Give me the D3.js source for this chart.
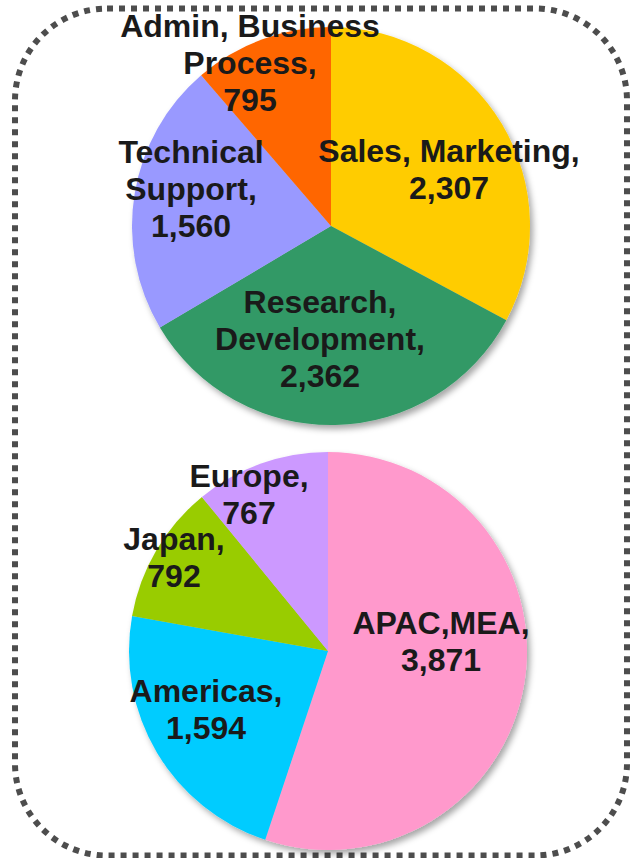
<!DOCTYPE html>
<html>
<head>
<meta charset="utf-8">
<script src="https://cdn.jsdelivr.net/npm/d3@7"></script>
<style>
  body { margin: 0; background: #fff; }
  svg { display: block; }
  .label { font-family: "Liberation Sans", Arial, sans-serif; font-weight: bold; font-size: 32px; fill: #1a1a1a; }
</style>
</head>
<body>
<div id="chart"></div>
<script>
// data
const funcCategories = ["Sales, Marketing", "Research,\nDevelopment", "Technical\nSupport", "Admin, Business\nProcess"],
    funcValues = [2307, 2362, 1560, 795],
    funcColors = ["#ffcc00", "#339966", "#9999ff", "#ff6600"];

const regionCategories = ["APAC,MEA", "Americas", "Japan", "Europe"],
    regionValues = [3871, 1594, 792, 767],
    regionColors = ["#ff99cc", "#00ccff", "#99cc00", "#cc99ff"];

// label anchors, relative to each pie's center (first baseline)
const funcLabelPos = [[118, -64], [-11, 87], [-140, -63], [-81, -189]],
    regionLabelPos = [[113, -17], [-122, 51], [-154, -101], [-79, -164]];

const svgWidth = 631,
    svgHeight = 858,
    radius = 199,
    lineHeight = 37;

let svg = d3.select("#chart").append("svg")
    .attr("width", svgWidth)
    .attr("height", svgHeight);

// soft shadow under the pies
let filter = svg.append("defs").append("filter")
    .attr("id", "shadow")
    .attr("x", "-20%").attr("y", "-20%")
    .attr("width", "140%").attr("height", "140%");
filter.append("feDropShadow")
    .attr("dx", 3).attr("dy", 4)
    .attr("stdDeviation", 3)
    .attr("flood-color", "#000")
    .attr("flood-opacity", 0.35);

// dotted rounded frame
svg.append("rect")
    .attr("x", 15)
    .attr("y", 8.5)
    .attr("width", 612)
    .attr("height", 847)
    .attr("rx", 92)
    .attr("ry", 92)
    .attr("fill", "none")
    .attr("stroke", "#4d4d4d")
    .attr("stroke-width", 6)
    .attr("stroke-dasharray", "6 6");

const pie = d3.pie().sort(null).value((d) => d.value);
const arc = d3.arc().innerRadius(0).outerRadius(radius);
const fmt = d3.format(",");

function drawPie(cx, cy, categories, values, colors, labelPos) {
    let data = categories.map((c, i) => ({ name: c, value: values[i], color: colors[i], pos: labelPos[i] }));
    let g = svg.append("g")
        .attr("transform", `translate(${cx},${cy})`);

    g.append("g")
        .attr("filter", "url(#shadow)")
        .selectAll("path")
        .data(pie(data))
        .join("path")
        .attr("d", arc)
        .attr("fill", (d) => d.data.color);

    g.selectAll("text")
        .data(data)
        .join("text")
        .attr("class", "label")
        .attr("text-anchor", "middle")
        .attr("transform", (d) => `translate(${d.pos[0]},${d.pos[1]})`)
        .each(function (d) {
            let lines = d.name.split("\n");
            lines[lines.length - 1] += ",";
            lines.push(fmt(d.value));
            d3.select(this).selectAll("tspan")
                .data(lines)
                .join("tspan")
                .attr("x", 0)
                .attr("y", (l, i) => i * lineHeight)
                .text((l) => l);
        });
}

drawPie(331, 226, funcCategories, funcValues, funcColors, funcLabelPos);
drawPie(328, 651, regionCategories, regionValues, regionColors, regionLabelPos);
</script>
</body>
</html>
